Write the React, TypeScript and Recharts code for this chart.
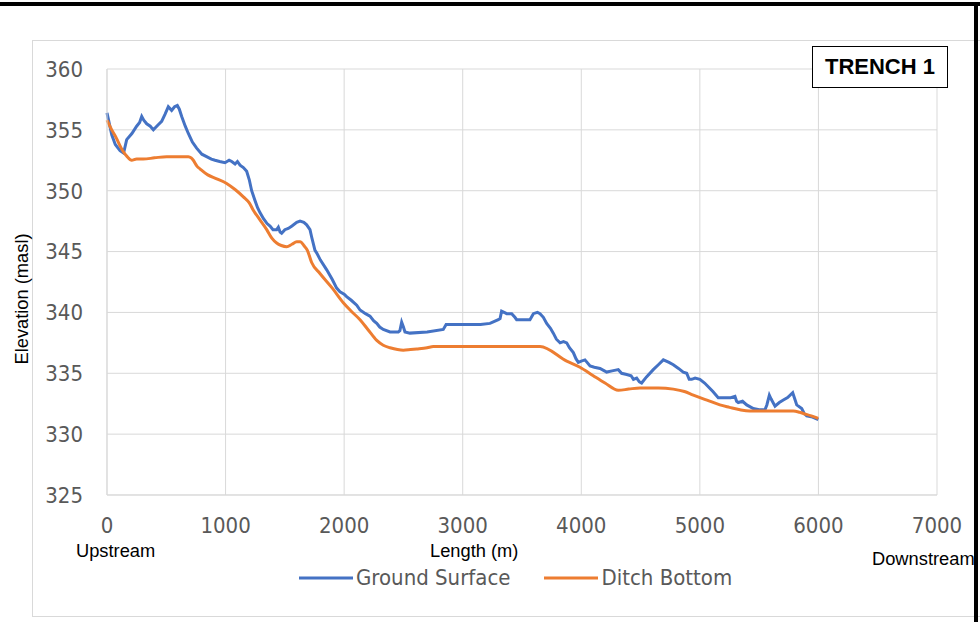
import { LineChart, Line, XAxis, YAxis, CartesianGrid } from 'recharts';

// Ground surface profile (distance m, elevation masl)
const groundX = [
  0, 40, 70, 110, 140, 166, 210, 250, 275, 293, 310, 335, 365, 391, 430, 461, 490, 517, 545, 570,
  593, 610, 630, 660, 686, 720, 756, 800, 840, 880, 911, 950, 995, 1030, 1052, 1080, 1100, 1122,
  1150, 1178, 1200, 1220, 1248, 1270, 1290, 1320, 1350, 1375, 1400, 1431, 1445, 1460, 1473, 1500,
  1529, 1560, 1600, 1628, 1660, 1684, 1712, 1726, 1754, 1768, 1800, 1853, 1900, 1937, 1965, 2000,
  2021, 2060, 2106, 2134, 2180, 2218, 2250, 2275, 2300, 2330, 2387, 2457, 2470, 2485, 2500, 2513,
  2555, 2700, 2836, 2860, 2878, 3005, 3150, 3230, 3300, 3315, 3328, 3350, 3371, 3413, 3440, 3455,
  3567, 3596, 3630, 3652, 3680, 3708, 3740, 3764, 3790, 3821, 3850, 3877, 3900, 3933, 3955, 3975,
  4000, 4031, 4074, 4110, 4158, 4214, 4260, 4312, 4340, 4383, 4420, 4440, 4467, 4490, 4509, 4550,
  4607, 4650, 4692, 4740, 4776, 4820, 4860, 4889, 4910, 4931, 4960, 5000, 5040, 5071, 5110, 5155,
  5200, 5260, 5296, 5310, 5324, 5360, 5395, 5451, 5500, 5549, 5565, 5586, 5600, 5634, 5670, 5704,
  5740, 5783, 5800, 5817, 5859, 5880, 5901, 5950, 5999,
];
const groundY = [
  356.4, 354.6, 353.8, 353.3, 353.1, 354.2, 354.7, 355.3, 355.6, 356.1, 355.8, 355.5, 355.3, 355.0,
  355.4, 355.7, 356.3, 356.9, 356.6, 356.9, 357.0, 356.7, 356.1, 355.3, 354.7, 354.0, 353.5, 353.0,
  352.8, 352.6, 352.5, 352.4, 352.3, 352.5, 352.4, 352.2, 352.4, 352.1, 351.9, 351.6, 350.9, 350.0,
  349.2, 348.6, 348.2, 347.7, 347.3, 347.1, 346.8, 346.8, 347.0, 346.6, 346.5, 346.8, 346.9, 347.1,
  347.4, 347.5, 347.4, 347.2, 346.8, 346.2, 345.1, 344.9, 344.3, 343.5, 342.7, 342.0, 341.7, 341.5,
  341.3, 341.0, 340.6, 340.2, 339.9, 339.7, 339.3, 339.1, 338.8, 338.6, 338.4, 338.4, 338.5, 339.2,
  338.8, 338.4, 338.3, 338.4, 338.6, 339.0, 339.0, 339.0, 339.0, 339.1, 339.4, 339.5, 340.1, 340.0,
  339.9, 339.9, 339.6, 339.4, 339.4, 339.9, 340.0, 339.9, 339.6, 339.1, 338.7, 338.3, 337.8, 337.5,
  337.6, 337.5, 337.1, 336.7, 336.2, 335.9, 336.0, 336.1, 335.6, 335.5, 335.4, 335.1, 335.2, 335.3,
  335.0, 334.9, 334.8, 334.5, 334.6, 334.3, 334.2, 334.7, 335.3, 335.7, 336.1, 335.9, 335.7, 335.4,
  335.1, 335.0, 334.5, 334.5, 334.6, 334.5, 334.2, 333.9, 333.5, 333.0, 333.0, 333.0, 333.1, 332.7,
  332.6, 332.7, 332.4, 332.1, 332.0, 332.0, 332.4, 333.2, 332.9, 332.3, 332.6, 332.8, 333.0, 333.4,
  332.9, 332.4, 332.1, 331.7, 331.5, 331.4, 331.2,
];

// Ditch bottom design profile
const ditchX = [
  0, 40, 80, 120, 138, 170, 208, 250, 306, 400, 503, 600, 686, 710, 728, 760, 784, 850, 920, 1009,
  1080, 1150, 1200, 1234, 1290, 1347, 1390, 1431, 1470, 1515, 1560, 1600, 1630, 1660, 1690, 1726,
  1796, 1900, 1993, 2060, 2134, 2200, 2275, 2330, 2387, 2450, 2499, 2560, 2612, 2700, 2752, 2900,
  3314, 3652, 3877, 3989, 4101, 4200, 4312, 4400, 4495, 4650, 4776, 4870, 4945, 5060, 5169, 5250,
  5338, 5420, 5507, 5650, 5788, 5840, 5873, 5940, 5999,
];
const ditchY = [
  355.8, 355.0, 354.3, 353.5, 353.2, 352.8, 352.5, 352.6, 352.6, 352.7, 352.8, 352.8, 352.8, 352.7,
  352.5, 352.0, 351.8, 351.3, 351.0, 350.6, 350.1, 349.5, 349.0, 348.4, 347.6, 346.8, 346.1, 345.7,
  345.5, 345.4, 345.6, 345.8, 345.8, 345.5, 345.1, 344.1, 343.2, 342.0, 340.8, 340.1, 339.4, 338.6,
  337.7, 337.3, 337.1, 336.95, 336.9, 336.95, 337.0, 337.1, 337.2, 337.2, 337.2, 337.2, 336.0,
  335.5, 334.8, 334.2, 333.6, 333.7, 333.8, 333.8, 333.7, 333.5, 333.2, 332.8, 332.4, 332.2, 332.0,
  331.9, 331.9, 331.9, 331.9, 331.8, 331.7, 331.5, 331.3,
];

const xTicks = [0, 1000, 2000, 3000, 4000, 5000, 6000, 7000];
const yTicks = [325, 330, 335, 340, 345, 350, 355, 360];

const groundData = groundX.map((x, i) => ({ x, ground: groundY[i] }));
const ditchData = ditchX.map((x, i) => ({ x, ditch: ditchY[i] }));

const BLUE = '#4472C4';
const ORANGE = '#ED7D31';
const GRID = '#d9d9d9';
const TICK_FONT = '"Liberation Sans Narrow", "DejaVu Sans Condensed", "Arial Narrow", sans-serif';
const tickStyle = { fill: '#595959', fontSize: 22, fontFamily: TICK_FONT };

const abs = (style: React.CSSProperties): React.CSSProperties => ({ position: 'absolute', ...style });

export default function App() {
  return (
    <div style={abs({ left: 0, top: 0, width: 980, height: 622, background: '#fff', overflow: 'hidden', fontFamily: '"Liberation Sans", Arial, sans-serif' })}>
      {/* chart frame */}
      <div style={abs({ left: 32, top: 40, width: 950, height: 577, border: `1px solid ${GRID}`, boxSizing: 'border-box' })} />
      <div style={abs({ left: 0, top: 2, width: 980, height: 4, background: '#000' })} />
      <div style={abs({ left: 974, top: 2, width: 4, height: 620, background: '#000' })} />

      <LineChart
        width={980}
        height={622}
        margin={{ top: 69, right: 43, bottom: 0, left: 0 }}
        style={{ position: 'absolute', left: 0, top: 0 }}
      >
        <CartesianGrid stroke={GRID} strokeWidth={1} />
        <XAxis
          dataKey="x"
          type="number"
          domain={[0, 7000]}
          ticks={xTicks}
          allowDuplicatedCategory={false}
          height={127}
          tickSize={0}
          tickMargin={22}
          axisLine={{ stroke: GRID }}
          tickLine={false}
          tick={tickStyle}
        />
        <YAxis
          type="number"
          domain={[325, 360]}
          ticks={yTicks}
          width={107}
          tickSize={0}
          tickMargin={24}
          axisLine={{ stroke: GRID }}
          tickLine={false}
          tick={tickStyle}
        />
        <Line
          data={groundData}
          dataKey="ground"
          name="Ground Surface"
          type="linear"
          stroke={BLUE}
          strokeWidth={3}
          dot={false}
          isAnimationActive={false}
        />
        <Line
          data={ditchData}
          dataKey="ditch"
          name="Ditch Bottom"
          type="monotone"
          stroke={ORANGE}
          strokeWidth={3}
          dot={false}
          isAnimationActive={false}
        />
      </LineChart>

      {/* axis titles */}
      <div style={abs({ left: 76, top: 540, fontSize: 18.3, color: '#000' })}>Upstream</div>
      <div style={abs({ left: 430, top: 540, fontSize: 18.3, color: '#000' })}>Length (m)</div>
      <div style={abs({ left: 872, top: 548, fontSize: 18.3, color: '#000' })}>Downstream</div>
      <div
        style={abs({
          left: 22,
          top: 299,
          fontSize: 18.3,
          color: '#000',
          whiteSpace: 'nowrap',
          transform: 'translate(-50%, -50%) rotate(-90deg)',
        })}
      >
        Elevation (masl)
      </div>

      {/* title box */}
      <div
        style={abs({
          left: 812,
          top: 46,
          width: 136,
          height: 42,
          border: '1.5px solid #000',
          boxSizing: 'border-box',
          background: '#fff',
          fontWeight: 'bold',
          fontSize: 22,
          lineHeight: '39px',
          textAlign: 'center',
          color: '#000',
        })}
      >
        TRENCH 1
      </div>

      {/* legend */}
      <div style={abs({ left: 299, top: 565, display: 'flex', alignItems: 'center', fontFamily: TICK_FONT, fontSize: 22, color: '#595959', whiteSpace: 'nowrap' })}>
        <svg width={54} height={6}><line x1={0} y1={3} x2={54} y2={3} stroke={BLUE} strokeWidth={3} /></svg>
        <span style={{ marginLeft: 3 }}>Ground Surface</span>
        <svg width={54} height={6} style={{ marginLeft: 34 }}><line x1={0} y1={3} x2={54} y2={3} stroke={ORANGE} strokeWidth={3} /></svg>
        <span style={{ marginLeft: 3 }}>Ditch Bottom</span>
      </div>
    </div>
  );
}
